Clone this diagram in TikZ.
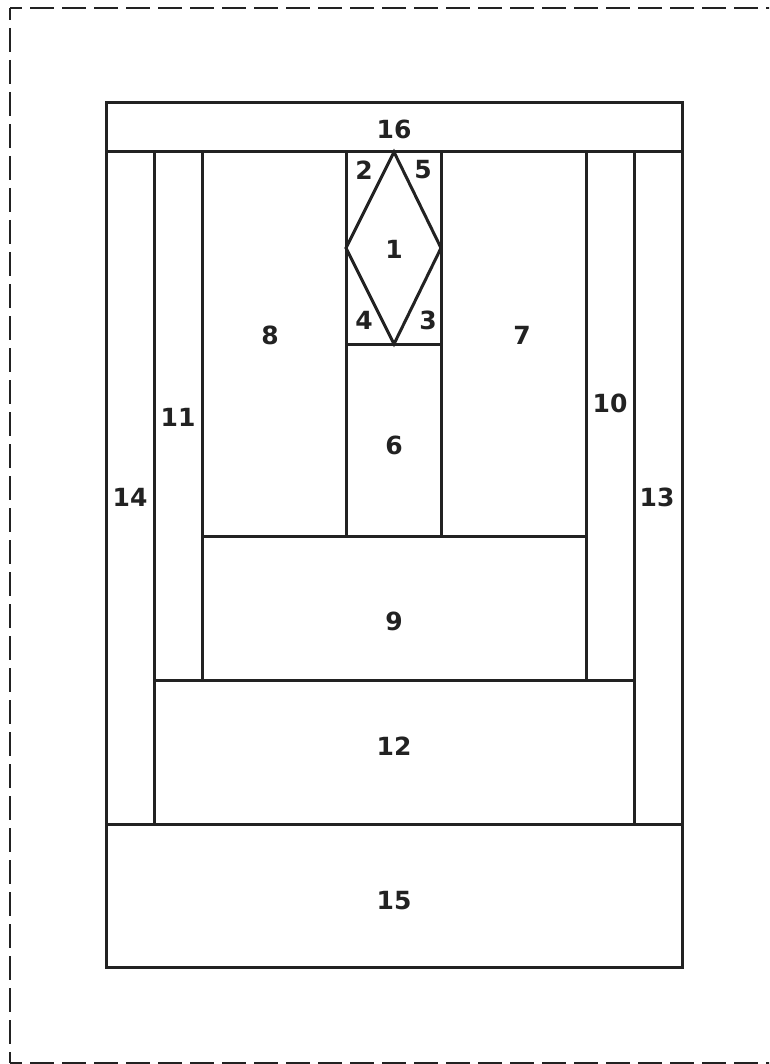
\documentclass[tikz,border=0pt]{standalone}
\usepackage{fontspec}
\setmainfont{DejaVu Sans}
\definecolor{ink}{HTML}{222222}
\begin{document}
\begin{tikzpicture}[x=1pt,y=-1pt,
  wall/.style={draw=ink,line width=3pt,line cap=rect,line join=miter},
  frame/.style={draw=ink,line width=2.6pt,dash pattern=on 24pt off 8pt,dash phase=12pt},
  lbl/.style={text=ink,font=\fontsize{25}{25}\selectfont\bfseries,inner sep=0pt,anchor=center}]
\useasboundingbox (0,0) rectangle (769,1064);
\begin{scope}
\clip (0,0) rectangle (769,1064);
\draw[frame] (10,8) -- (810,8);
\draw[frame] (10,8) -- (10,1063);
\draw[frame] (10,1063) -- (810,1063);
\end{scope}
% outer
\draw[wall] (106,103) rectangle (682,967);
\draw[wall] (106,152) -- (682,152);
\draw[wall] (106,824) -- (682,824);
\draw[wall] (154,152) -- (154,824);
\draw[wall] (634,152) -- (634,824);
\draw[wall] (154,680) -- (634,680);
\draw[wall] (202,152) -- (202,680);
\draw[wall] (586,152) -- (586,680);
\draw[wall] (202,536) -- (586,536);
\draw[wall] (346,152) -- (346,536);
\draw[wall] (441,152) -- (441,536);
\draw[wall] (346,344) -- (441,344);
\draw[wall] (394,152) -- (346,248) -- (394,344) -- (441,248) -- cycle;
% labels
\node[lbl] (n16) at (394,129) {16};
\node[lbl] (n2) at (364,170) {2};
\node[lbl] (n5) at (423,170) {5};
\node[lbl] (n1) at (394,249) {1};
\node[lbl] (n4) at (364,320) {4};
\node[lbl] (n3) at (428,320) {3};
\node[lbl] (n8) at (270,335) {8};
\node[lbl] (n7) at (522,335) {7};
\node[lbl] (n11) at (178,417) {11};
\node[lbl] (n10) at (610,403) {10};
\node[lbl] (n14) at (130,497) {14};
\node[lbl] (n13) at (657,497) {13};
\node[lbl] (n6) at (394,445) {6};
\node[lbl] (n9) at (394,621) {9};
\node[lbl] (n12) at (394,746) {12};
\node[lbl] (n15) at (394,901) {15};
\end{tikzpicture}
\end{document}
